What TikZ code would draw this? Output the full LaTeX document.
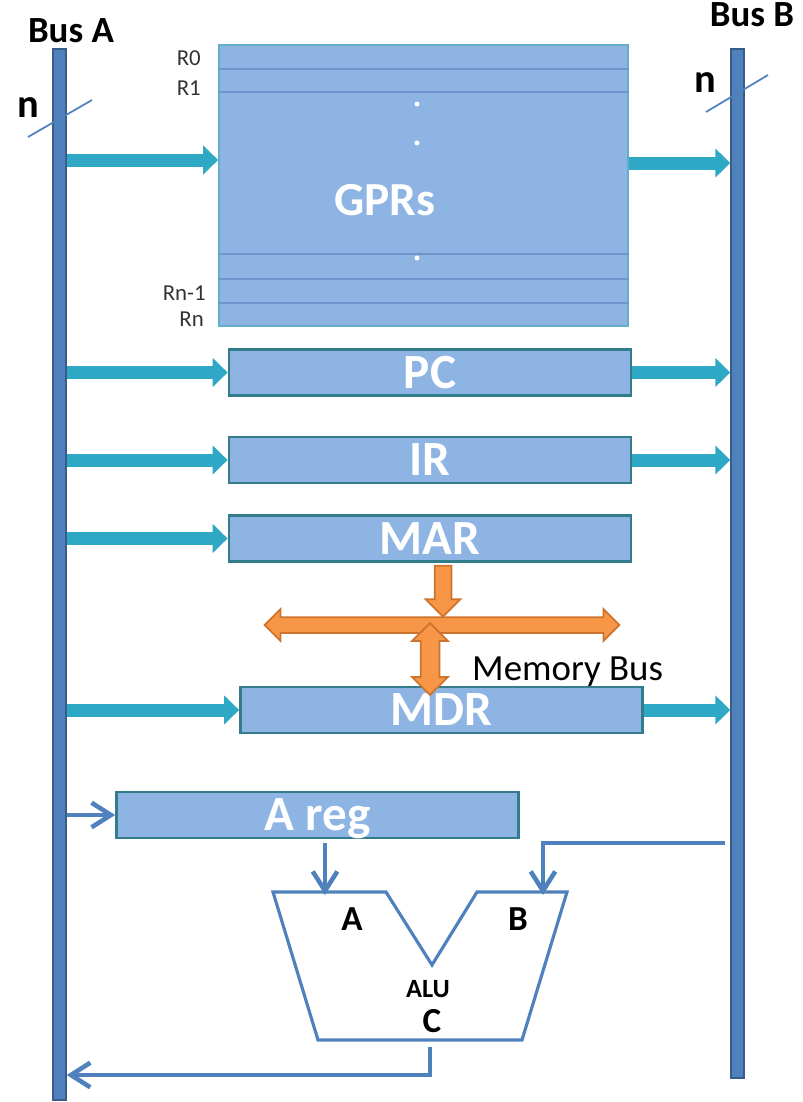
\documentclass[tikz,border=0pt]{standalone}
\usepackage{fontspec}
\setmainfont{Carlito}
\usetikzlibrary{arrows.meta,shapes.arrows}
\definecolor{F}{RGB}{141,180,226}
\definecolor{T}{RGB}{49,125,140}
\definecolor{L}{RGB}{100,175,200}
\definecolor{K}{RGB}{110,150,205}
\definecolor{B}{RGB}{79,129,189}
\definecolor{D}{RGB}{56,93,138}
\definecolor{Q}{RGB}{46,168,196}
\definecolor{O}{RGB}{247,150,70}
\definecolor{OD}{RGB}{205,115,45}
\tikzset{
  reg/.style={draw=T, line width=1.6pt, fill=F, text=white,
    font=\bfseries\fontsize{28}{28}\selectfont, minimum width=8.04cm,
    minimum height=0.92cm, inner sep=0pt, text height=18pt, text depth=0pt},
  bus/.style={draw=D, line width=0.8pt, fill=B, minimum width=0.26cm, inner sep=0pt},
  flow/.style={Q, line width=7.4pt, -{Triangle[length=8.5pt,width=16pt]}},
  wire/.style={B, line width=2.6pt, -{Straight Barb[length=11pt,width=14pt]}},
  alu/.style={B, line width=1.8pt, line join=miter},
  memarr/.style={fill=O, draw=OD, line width=1pt, inner xsep=0pt},
  rlbl/.style={anchor=base east, text=black!80, font=\fontsize{13}{13}\selectfont},
  big/.style={anchor=base, font=\bfseries\fontsize{20}{20}\selectfont},
}
\begin{document}
\begin{tikzpicture}[x=0.02cm, y=-0.02cm]
  \useasboundingbox (0,0) rectangle (802,1102);
  % buses
  \node[bus, minimum height=21.02cm] (busA) at (59.5,574.5) {};
  \node[bus, minimum height=20.58cm] (busB) at (737.5,563.5) {};
  \node[anchor=base, font=\bfseries\fontsize{21}{21}\selectfont] (busAlbl) at (71,42) {Bus A};
  \node[anchor=base, font=\bfseries\fontsize{21}{21}\selectfont] (busBlbl) at (752,27) {Bus B};
  \node[anchor=base, font=\bfseries\fontsize{23}{23}\selectfont] (nA) at (28,117) {n};
  \node[anchor=base, font=\bfseries\fontsize{23}{23}\selectfont] (nB) at (705,92) {n};
  \draw[B, line width=1pt] (28,137) -- (92,100);
  \draw[B, line width=1pt] (706,112) -- (768,75);

  % register file
  \node[draw=L, line width=1pt, fill=F, minimum width=8.18cm, minimum height=5.62cm,
    inner sep=0pt] (gprs) at (423.5,185.5) {};
  \foreach \y in {69,92,254,279,303}
    \draw[K, line width=1pt] (gprs.west |- 0,\y) -- (gprs.east |- 0,\y);
  \foreach \y in {104,143,258}
    \fill[white] (417,\y) circle (1.4pt);
  \node[anchor=base, text=white, font=\bfseries\fontsize{27}{27}\selectfont] (gprlbl) at (385,215) {GPRs};
  \node[rlbl] (r0) at (207,65) {R0};
  \node[rlbl] (r1) at (207,95) {R1};
  \node[rlbl] (rn1) at (212,300) {Rn-1};
  \node[rlbl] (rn) at (210,326) {Rn};

  % registers
  \node[reg] (pc) at (430,372.5) {PC};
  \node[reg] (ir) at (430,460) {IR};
  \node[reg] (mar) at (430,538.5) {MAR};
  \node[reg] (mdr) at (441.5,710) {MDR};
  \node[reg] (areg) at (317.5,815) {A reg};

  % bus transfers
  \coordinate (gin) at (0,160);
  \coordinate (gout) at (0,163);
  \draw[flow] (busA.east |- gin) -- (gprs.west |- gin);
  \draw[flow] (gprs.east |- gout) -- (busB.west |- gout);
  \foreach \r in {pc,ir,mar,mdr}
    \draw[flow] (busA.east |- \r.west) -- (\r.west);
  \foreach \r in {pc,ir,mdr}
    \draw[flow] (\r.east) -- (busB.west |- \r.east);

  % memory bus
  \node[memarr, single arrow, rotate=-90, minimum height=1.02cm, inner ysep=0.15cm,
    single arrow head extend=0.18cm] (marlink) at (443,587) {};
  \node[memarr, double arrow, minimum height=7.1cm, inner ysep=0.14cm,
    double arrow head extend=0.16cm] (membus) at (442,625) {};
  \node[memarr, double arrow, rotate=90, minimum height=1.44cm, inner ysep=0.17cm,
    double arrow head extend=0.17cm] (mdrlink) at (430,659) {};
  \node[anchor=base west, font=\fontsize{21}{21}\selectfont] (memlbl) at (466,680) {Memory Bus};

  % ALU
  \draw[alu] (273,892) -- (386,892) -- (432,965) -- (477,892) -- (567,892)
    -- (522,1040) -- (318,1040) -- cycle;
  \coordinate (aluA) at (325,895);
  \coordinate (aluB) at (543,895);
  \coordinate (aluC) at (430,1040);
  \node[big] (inA) at (352,930) {A};
  \node[big] (inB) at (518,930) {B};
  \node[anchor=base, font=\bfseries\fontsize{15}{15}\selectfont] (alulbl) at (428,997) {ALU};
  \node[big] (outC) at (432,1032) {C};

  \draw[wire] (busA.east |- areg.west) -- (areg.west);
  \draw[wire, shorten <=2pt] (areg.south -| aluA) -- (aluA);
  \coordinate (bturn) at (543,843);
  \draw[wire, shorten <=3pt] (busB.west |- bturn) -- (bturn) -- (aluB);
  \coordinate (cturn) at (430,1075);
  \draw[wire, shorten <=4pt] (aluC) -- (cturn) -- (busA.east |- cturn);
\end{tikzpicture}
\end{document}
